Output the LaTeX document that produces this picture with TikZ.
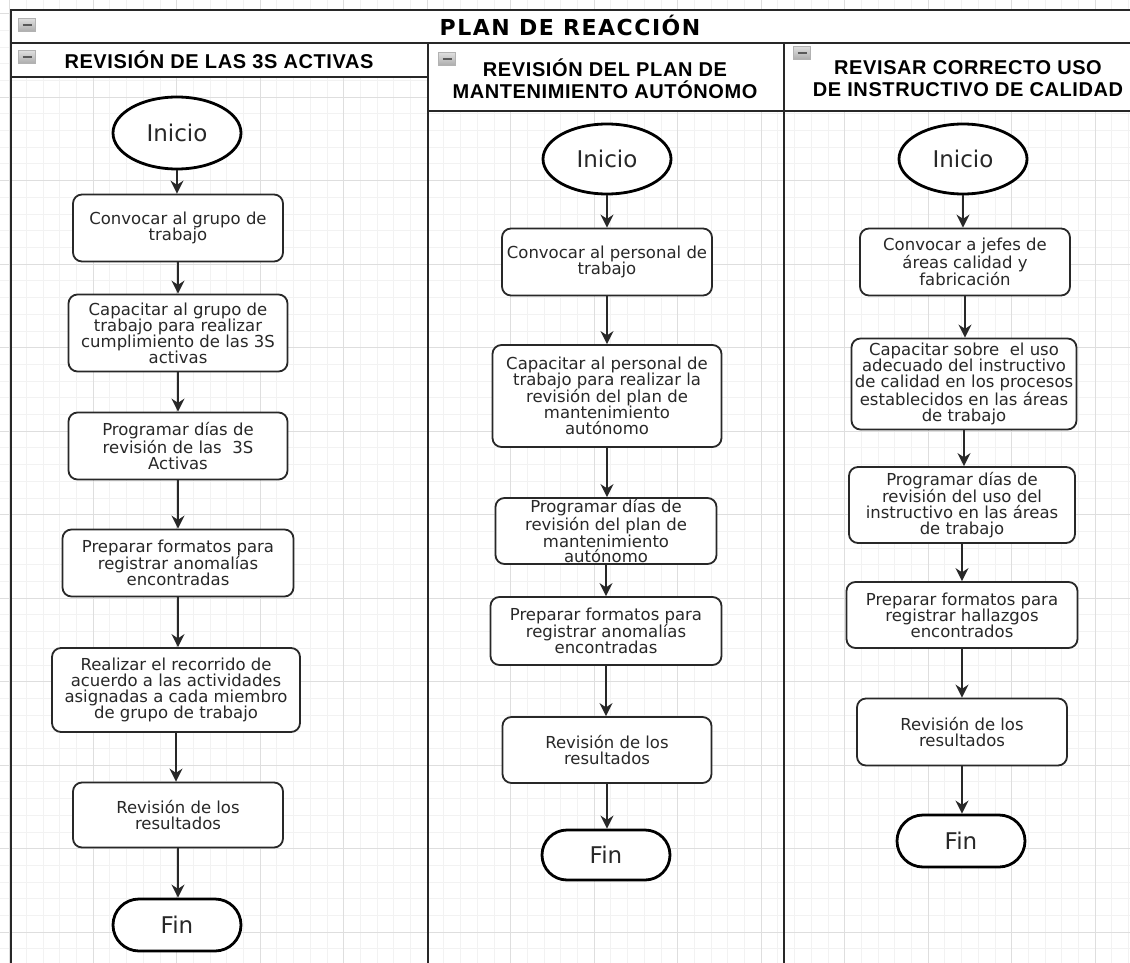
\documentclass[tikz,border=0pt]{standalone}
\usepackage{fontspec}
\setmainfont{DejaVu Sans}
\newfontfamily\headfont[LetterSpace=3]{Liberation Sans}
\newfontfamily\titlefont[LetterSpace=7]{DejaVu Sans}
\usetikzlibrary{arrows.meta,shapes.geometric,shapes.misc}
\definecolor{lineaosc}{RGB}{40,40,40}
\definecolor{textogris}{RGB}{40,40,40}
\definecolor{rejilla}{RGB}{222,222,222}
\definecolor{rejillafina}{RGB}{242,242,242}

\tikzset{
  paso/.style={draw=lineaosc, line width=1.8pt, rounded corners=9pt, fill=white,
    align=center, inner sep=0pt, text=textogris,
    font=\fontsize{16.5}{16}\selectfont},
  inicio/.style={ellipse, draw=black, line width=2.8pt, fill=white,
    minimum width=128pt, minimum height=72pt, inner sep=0pt, text=textogris,
    font=\fontsize{23}{26}\selectfont},
  fin/.style={rounded rectangle, draw=black, line width=2.8pt, fill=white,
    minimum width=128pt, minimum height=52pt, inner sep=0pt, text=textogris,
    font=\fontsize{23}{26}\selectfont},
  flecha/.style={-{Stealth[length=13pt,width=13pt]}, line width=1.8pt, draw=lineaosc},
  carril/.style={draw=lineaosc, line width=2.4pt},
  titulo/.style={font=\titlefont\bfseries\fontsize{22}{24}\selectfont, text=black},
  encabezado/.style={font=\headfont\bfseries\fontsize{20}{22}\selectfont,
    align=center, text=black},
  plegar/.style={draw=gray!60, top color=gray!25, bottom color=gray!65,
    minimum width=17pt, minimum height=13pt, inner sep=0pt,
    path picture={\draw[black!65, line width=2pt]
      ([xshift=4pt]path picture bounding box.west) --
      ([xshift=-4pt]path picture bounding box.east);}},
}

\begin{document}
\begin{tikzpicture}[x=1pt,y=-1pt]
  \useasboundingbox (0,0) rectangle (1130,963);
  \clip (0,0) rectangle (1130,963);
  % Fondo con rejilla
  \fill[white] (0,0) rectangle (1130,963);
  \foreach \k in {0,...,67}
    \draw[rejillafina, line width=0.6pt] ({9.5+16.7*\k},0) -- ++(0,963);
  \foreach \k in {0,...,58}
    \draw[rejillafina, line width=0.6pt] (0,{-3.2+16.7*\k}) -- ++(1130,0);
  \foreach \k in {0,...,13}
    \draw[rejilla, line width=0.8pt] ({9.5+83.5*\k},0) -- ++(0,963);
  \foreach \k in {0,...,11}
    \draw[rejilla, line width=0.8pt] (0,{13.5+83.5*\k}) -- ++(1130,0);

  % Marco y carriles
  \fill[white] (11,10) rectangle (1140,43);
  \fill[white] (11,43) rectangle (428,77);
  \fill[white] (428,43) rectangle (1140,111);
  \draw[carril] (1140,10) -- (11,10) -- (11,975);
  \draw[carril] (11,43) -- (1140,43);
  \draw[carril] (11,77) -- (428,77);
  \draw[carril] (428,111) -- (1140,111);
  \draw[carril] (428,43) -- (428,975);
  \draw[carril] (784,43) -- (784,975);

  % Encabezados
  \node[plegar] (pl0) at (27,25) {};
  \node[plegar] (pl1) at (27,57) {};
  \node[plegar] (pl2) at (447,59) {};
  \node[plegar] (pl3) at (802,53) {};
  \node[titulo] (tit) at (570,25) {PLAN DE REACCIÓN};
  \node[encabezado] (enc1) at (219,60) {REVISIÓN DE LAS 3S ACTIVAS};
  \node[encabezado] (enc2) at (605,79) {REVISIÓN DEL PLAN DE\\MANTENIMIENTO AUTÓNOMO};
  \node[encabezado] (enc3) at (968,79) {REVISAR CORRECTO USO\\DE INSTRUCTIVO DE CALIDAD};

  % Carril 1
  \node[inicio] (ini1) at (177,133) {Inicio};
  \node[paso, minimum width=210pt, minimum height=67pt] (c1a) at (178,228)
    {Convocar al grupo de\\trabajo};
  \node[paso, minimum width=219pt, minimum height=77pt] (c1b) at (178,333)
    {Capacitar al grupo de\\trabajo para realizar\\cumplimiento de las 3S\\activas};
  \node[paso, minimum width=219pt, minimum height=67pt] (c1c) at (178,446)
    {Programar días de\\revisión de las \ 3S\\Activas};
  \node[paso, minimum width=231pt, minimum height=67pt] (c1d) at (178,563)
    {Preparar formatos para\\registrar anomalías\\encontradas};
  \node[paso, minimum width=248pt, minimum height=84pt] (c1e) at (176,690)
    {Realizar el recorrido de\\acuerdo a las actividades\\asignadas a cada miembro\\de grupo de trabajo};
  \node[paso, minimum width=210pt, minimum height=65pt] (c1f) at (178,815)
    {Revisión de los\\resultados};
  \node[fin] (fin1) at (177,925) {Fin};

  % Carril 2
  \node[inicio, minimum height=70pt] (ini2) at (607,159) {Inicio};
  \node[paso, minimum width=210pt, minimum height=67pt] (c2a) at (607,262)
    {Convocar al personal de\\trabajo};
  \node[paso, minimum width=229pt, minimum height=102pt] (c2b) at (607,396)
    {Capacitar al personal de\\trabajo para realizar la\\revisión del plan de\\mantenimiento\\autónomo};
  \node[paso, minimum width=221pt, minimum height=66pt,
    font=\fontsize{16.5}{15}\selectfont] (c2c) at (606,531)
    {Programar días de\\revisión del plan de\\mantenimiento\\autónomo};
  \node[paso, minimum width=231pt, minimum height=68pt] (c2d) at (606,631)
    {Preparar formatos para\\registrar anomalías\\encontradas};
  \node[paso, minimum width=209pt, minimum height=66pt] (c2e) at (607,750)
    {Revisión de los\\resultados};
  \node[fin, minimum height=50pt] (fin2) at (606,855) {Fin};

  % Carril 3
  \node[inicio, minimum height=70pt] (ini3) at (963,159) {Inicio};
  \node[paso, minimum width=210pt, minimum height=67pt] (c3a) at (965,262)
    {Convocar a jefes de\\áreas calidad y\\fabricación};
  \node[paso, minimum width=225pt, minimum height=91pt] (c3b) at (964,384)
    {Capacitar sobre \ el uso\\adecuado del instructivo\\de calidad en los procesos\\establecidos en las áreas\\de trabajo};
  \node[paso, minimum width=226pt, minimum height=76pt] (c3c) at (962,505)
    {Programar días de\\revisión del uso del\\instructivo en las áreas\\de trabajo};
  \node[paso, minimum width=231pt, minimum height=66pt] (c3d) at (962,615)
    {Preparar formatos para\\registrar hallazgos\\encontrados};
  \node[paso, minimum width=210pt, minimum height=67pt] (c3e) at (962,732)
    {Revisión de los\\resultados};
  \node[fin, minimum height=52pt] (fin3) at (961,841) {Fin};

  % Flechas
  \foreach \a/\b in {ini1/c1a, c1a/c1b, c1b/c1c, c1c/c1d, c1d/c1e, c1e/c1f, c1f/fin1,
                     ini2/c2a, c2a/c2b, c2b/c2c, c2c/c2d, c2d/c2e, c2e/fin2,
                     ini3/c3a, c3a/c3b, c3b/c3c, c3c/c3d, c3d/c3e, c3e/fin3}
    \draw[flecha] (\a) -- (\a |- \b.north);
\end{tikzpicture}
\end{document}
